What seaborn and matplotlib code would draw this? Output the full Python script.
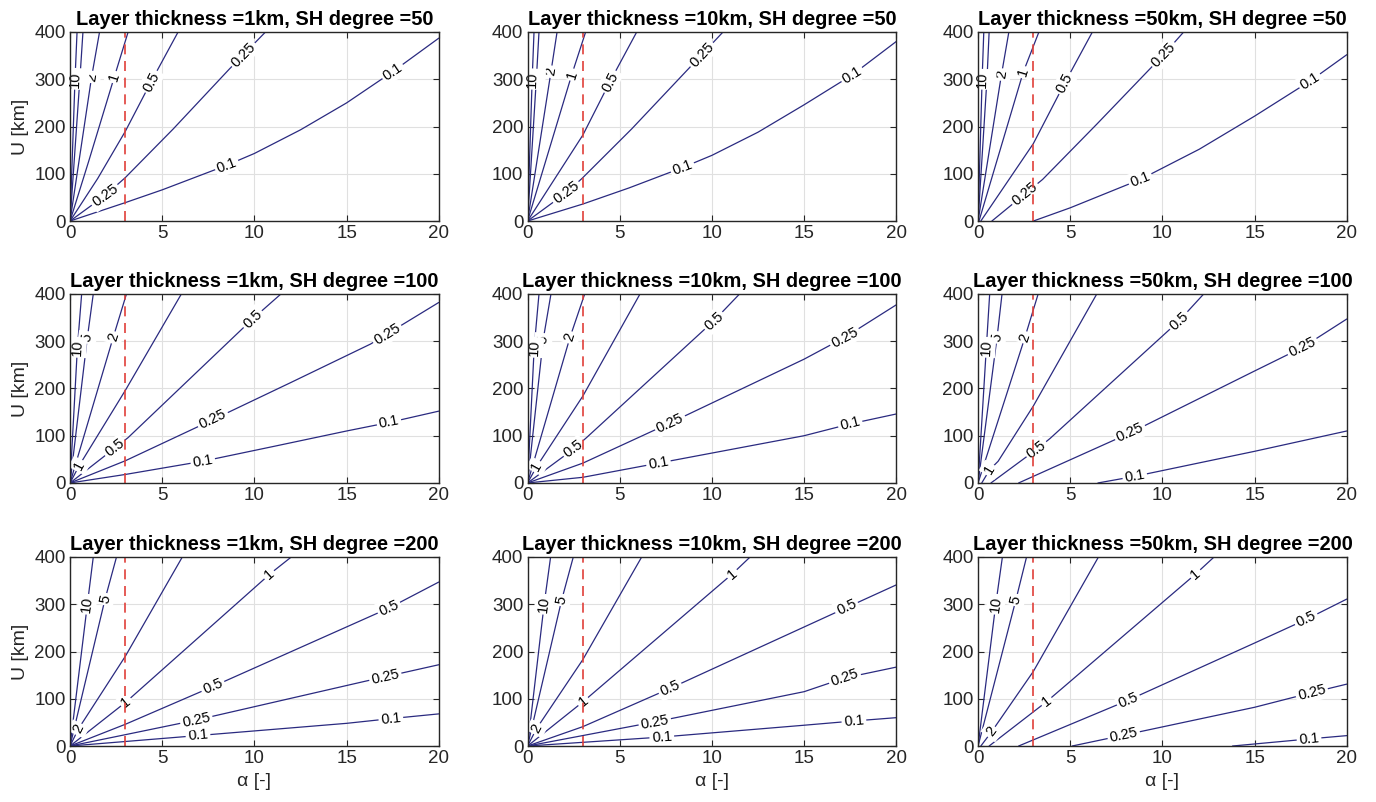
import numpy as np
import pandas as pd
import matplotlib
matplotlib.use("Agg")
import matplotlib.pyplot as plt
import seaborn as sns

# panel settings
THICKNESS = [1, 10, 50]          # km, one per column
SH_DEGREE = [50, 100, 200]       # one per row
ALPHA_REF = 3                    # dashed reference line

# contour lines: level -> (alpha values, U values in km)
L1_D50 = {
    0.1: ([0, 3, 5, 8.5, 10, 12.5, 15, 17.5, 20], [0, 39, 66, 118, 143, 193, 250, 316, 387]),
    0.25: ([0, 1.9, 3, 5.6, 8.65, 10.6], [0, 54, 92, 195, 322, 400]),
    0.5: ([0, 1.5, 3, 4.4, 5.86], [0, 90, 190, 295, 400]),
    1: ([0, 1, 2.3, 3.15], [0, 125, 292, 400]),
    2: ([0, 1.17, 1.6], [0, 305, 400]),
    5: ([0, 0.55, 0.7], [0, 310, 400]),
    10: ([0, 0.27, 0.38], [0, 300, 400]),
}
L10_D50 = {
    0.1: ([0, 3, 5.5, 8.4, 10, 12.5, 15, 17.6, 20], [0, 36, 70, 113, 139, 188, 246, 309, 380]),
    0.25: ([0, 2.1, 2.95, 5.65, 9.4, 10.6], [0, 60, 90, 195, 350, 400]),
    0.5: ([0, 3, 4.47, 5.92], [0, 182, 295, 400]),
    1: ([0, 2.4, 3.15], [0, 310, 400]),
    2: ([0, 1.27, 1.6], [0, 316, 400]),
    5: ([0, 0.49, 0.62], [0, 309, 400]),
    10: ([0, 0.25, 0.35], [0, 300, 400]),
}
L50_D50 = {
    0.1: ([3, 5, 8.8, 12, 15, 18, 20], [0, 28, 88, 152, 222, 296, 352]),
    0.25: ([0.75, 2.5, 3.5, 6.44, 10.06, 11.15], [0, 56, 88, 205, 352, 400]),
    0.5: ([0.15, 3, 4.7, 6.2], [0, 164, 292, 400]),
    1: ([0.05, 2.45, 3.3], [0, 315, 400]),
    2: ([0, 1.27, 1.67], [0, 310, 400]),
    5: ([0, 0.49, 0.6], [0, 305, 400]),
    10: ([0, 0.22, 0.31], [0, 300, 400]),
}
L1_D100 = {
    0.1: ([0, 3, 7.2, 11, 15, 17.3, 20], [0, 18, 46, 77, 110, 128, 152]),
    0.25: ([0, 3, 7.7, 12, 16.3, 20], [0, 47, 133, 213, 294, 382]),
    0.5: ([0, 2.43, 3.15, 9.9, 11.44], [0, 74, 96, 347, 400]),
    1: ([0, 0.5, 3, 6.04], [0, 37, 196, 400]),
    2: ([0, 2.34, 3.06], [0, 308, 400]),
    5: ([0, 0.94, 1.26], [0, 308, 400]),
    10: ([0, 0.4, 0.63], [0, 287, 400]),
}
L10_D100 = {
    0.1: ([0, 3, 7.1, 15, 17.5, 20], [0, 12, 42, 100, 125, 146]),
    0.25: ([0, 3, 7.73, 15, 17.2, 20], [0, 42, 127, 262, 308, 377]),
    0.5: ([0, 2.5, 3.2, 10.1, 11.5], [0, 72, 96, 343, 400]),
    1: ([0, 0.5, 3, 6.1], [0, 35, 184, 400]),
    2: ([0, 2.3, 3.1], [0, 308, 400]),
    5: ([0, 0.85, 1.27], [0, 304, 400]),
    10: ([0, 0.36, 0.62], [0, 287, 400]),
}
L50_D100 = {
    0.1: ([6.5, 8.5, 15, 20], [0, 14, 67, 110]),
    0.25: ([2.2, 8.25, 15, 17.6, 20], [0, 106, 237, 287, 347]),
    0.5: ([0.7, 3.17, 3.9, 10.9, 12.24], [0, 71, 94, 343, 400]),
    1: ([0.2, 0.63, 1.09, 3, 6.44], [0, 28, 46, 163, 400]),
    2: ([0, 2.54, 3.26], [0, 308, 400]),
    5: ([0, 1.03, 1.3], [0, 308, 400]),
    10: ([0, 0.45, 0.63], [0, 287, 400]),
}
L1_D200 = {
    0.1: ([0, 6.9, 15, 17.4, 20], [0, 22, 48, 58, 68]),
    0.25: ([0, 3, 6.85, 16, 20], [0, 24, 55, 137, 172]),
    0.5: ([0, 3, 7.75, 17.3, 20], [0, 46, 126, 292, 347]),
    1: ([0, 3.03, 10.9, 12], [0, 93, 366, 400]),
    2: ([0, 0.45, 3, 6.09], [0, 36, 190, 400]),
    5: ([0, 1.9, 2.52], [0, 311, 400]),
    10: ([0, 0.94, 1.26], [0, 300, 400]),
}
L10_D200 = {
    0.1: ([0, 7.28, 15, 17.7, 20], [0, 19, 44, 53, 60]),
    0.25: ([0, 6.9, 15, 17.2, 20], [0, 51, 115, 144, 167]),
    0.5: ([0, 3, 7.73, 17.3, 20], [0, 41, 122, 293, 341]),
    1: ([0, 3.02, 11.1, 12.07], [0, 94, 364, 400]),
    2: ([0, 0.49, 3, 6.19], [0, 37, 183, 400]),
    5: ([0, 1.85, 2.48], [0, 309, 400]),
    10: ([0, 0.9, 1.25], [0, 300, 400]),
}
L50_D200 = {
    0.1: ([13.8, 17.95, 20], [0, 15, 22]),
    0.25: ([5.1, 7.9, 15, 18.1, 20], [0, 23, 82, 113, 131]),
    0.5: ([2.2, 8.15, 15, 17.8, 20], [0, 97, 218, 268, 311]),
    1: ([0.6, 3.72, 11.8, 12.8], [0, 94, 364, 400]),
    2: ([0.15, 0.73, 3, 6.53], [0, 30, 158, 400]),
    5: ([0, 2.05, 2.63], [0, 309, 400]),
    10: ([0, 0.96, 1.32], [0, 300, 400]),
}

# where the inline labels sit (alpha along each line)
LAB_1_50 = [(0.1, 8.5), (0.1, 17.5), (0.25, 1.9), (0.25, 9.4), (0.5, 4.4),
            (1, 2.4), (2, 1.17), (5, 0.55), (10, 0.27)]
LAB_10_50 = [(0.1, 8.4), (0.1, 17.6), (0.25, 2.1), (0.25, 9.45), (0.5, 4.47),
             (1, 2.4), (2, 1.27), (5, 0.49), (10, 0.25)]
LAB_50_50 = [(0.1, 8.8), (0.1, 18), (0.25, 2.54), (0.25, 10.06), (0.5, 4.7),
             (1, 2.45), (2, 1.27), (5, 0.49), (10, 0.22)]
LAB_1_100 = [(0.1, 7.2), (0.1, 17.3), (0.25, 7.75), (0.25, 17.2), (0.5, 2.43),
             (0.5, 9.9), (1, 0.5), (2, 2.34), (5, 0.94), (10, 0.4)]
LAB_10_100 = [(0.1, 7.1), (0.1, 17.5), (0.25, 7.73), (0.25, 17.2), (0.5, 2.5),
              (0.5, 10.1), (1, 0.5), (2, 2.3), (5, 0.85), (10, 0.36)]
LAB_50_100 = [(0.1, 8.5), (0.25, 8.25), (0.25, 17.6), (0.5, 3.17), (0.5, 10.9),
              (1, 0.63), (2, 2.54), (5, 1.03), (10, 0.45)]
LAB_1_200 = [(0.1, 6.94), (0.1, 17.4), (0.25, 6.85), (0.25, 17.1), (0.5, 7.75),
             (0.5, 17.3), (1, 3.03), (1, 10.8), (2, 0.45), (5, 1.9), (10, 0.94)]
LAB_10_200 = [(0.1, 7.28), (0.1, 17.7), (0.25, 6.9), (0.25, 17.2), (0.5, 7.73),
              (0.5, 17.3), (1, 3.02), (1, 11.1), (2, 0.49), (5, 1.85), (10, 0.9)]
LAB_50_200 = [(0.1, 17.95), (0.25, 7.9), (0.25, 18.1), (0.5, 8.15), (0.5, 17.8),
              (1, 3.72), (1, 11.8), (2, 0.73), (5, 2.05), (10, 0.96)]

LINES = [[L1_D50, L10_D50, L50_D50],
         [L1_D100, L10_D100, L50_D100],
         [L1_D200, L10_D200, L50_D200]]
LABELS = [[LAB_1_50, LAB_10_50, LAB_50_50],
          [LAB_1_100, LAB_10_100, LAB_50_100],
          [LAB_1_200, LAB_10_200, LAB_50_200]]

NAVY = "#2a2a80"
RED = "#e0403a"
DARK = "#262626"

sns.set_theme(style="whitegrid")
plt.rcParams["font.family"] = ["Liberation Sans", "DejaVu Sans"]

fig = plt.figure(figsize=(13.76, 8.02), dpi=100)

lefts = [0.0509, 0.3834, 0.7108]
bottoms = [0.7244, 0.3978, 0.0698]
w, h = 0.268, 0.2357


def line_frame(lines):
    rows = []
    for lev, (a, u) in lines.items():
        for i, (ai, ui) in enumerate(zip(a, u)):
            rows.append({"alpha": ai, "U": ui, "level": str(lev), "order": i})
    return pd.DataFrame(rows)


for r in range(3):
    for c in range(3):
        ax = fig.add_axes([lefts[c], bottoms[r], w, h])
        ax.set_xlim(0, 20)
        ax.set_ylim(0, 400)
        lines = LINES[r][c]
        df = line_frame(lines)
        sns.lineplot(data=df, x="alpha", y="U", units="level", estimator=None,
                     sort=False, color=NAVY, lw=0.9, ax=ax, legend=False,
                     zorder=2)
        ax.axvline(ALPHA_REF, color=RED, ls=(0, (6, 4)), lw=1.2, zorder=2.7)

        # inline contour labels
        for lev, a_lab in LABELS[r][c]:
            a, u = lines[lev]
            a = np.asarray(a, float)
            u = np.asarray(u, float)
            u_lab = np.interp(a_lab, a, u)
            i = int(np.clip(np.searchsorted(a, a_lab) - 1, 0, len(a) - 2))
            p1 = ax.transData.transform((a[i], u[i]))
            p2 = ax.transData.transform((a[i + 1], u[i + 1]))
            ang = np.degrees(np.arctan2(p2[1] - p1[1], p2[0] - p1[0]))
            if ang > 90:
                ang -= 180
            ax.text(a_lab, u_lab, f"{lev:g}", rotation=ang,
                    rotation_mode="anchor", ha="center", va="center",
                    fontsize=10.5, color="black", zorder=2.5,
                    bbox=dict(boxstyle="square,pad=0.15", fc="white", ec="none"))

        ax.set_xticks([0, 5, 10, 15, 20])
        ax.set_yticks([0, 100, 200, 300, 400])
        ax.grid(True, color="#e0e0e0", lw=0.8)
        ax.tick_params(direction="in", length=4, width=0.8, colors=DARK,
                       labelsize=13.5, top=True, right=True, pad=3,
                       bottom=True, left=True)
        for sp in ax.spines.values():
            sp.set_color(DARK)
            sp.set_linewidth(1.0)
            sp.set_zorder(5)
        ax.set_title(f"Layer thickness ={THICKNESS[c]}km, SH degree ={SH_DEGREE[r]}",
                     fontsize=14.4, fontweight="bold", pad=5, color="black")
        ax.set_xlabel("α [-]" if r == 2 else "", fontsize=14, color=DARK,
                      labelpad=4)
        ax.set_ylabel("U [km]" if c == 0 else "", fontsize=14, color=DARK,
                      labelpad=4)

fig.savefig("out.png", dpi=100)
